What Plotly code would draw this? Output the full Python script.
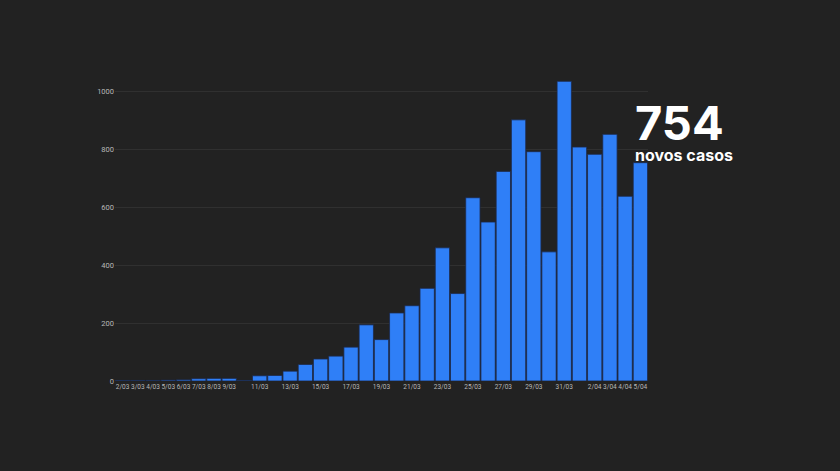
import plotly.graph_objects as go

dates = ["2/03","3/03","4/03","5/03","6/03","7/03","8/03","9/03","10/03","11/03",
         "12/03","13/03","14/03","15/03","16/03","17/03","18/03","19/03","20/03","21/03",
         "22/03","23/03","24/03","25/03","26/03","27/03","28/03","29/03","30/03","31/03",
         "1/04","2/04","3/04","4/04","5/04"]
new_cases = [2, 2, 2, 3, 4, 8, 9, 9, 2, 18,
             19, 34, 57, 76, 86, 117, 194, 143, 235, 260,
             320, 460, 302, 633, 549, 724, 902, 792, 446, 1035,
             808, 783, 852, 638, 754]
shown_ticks = ["2/03","3/03","4/03","5/03","6/03","7/03","8/03","9/03","11/03",
               "13/03","15/03","17/03","19/03","21/03","23/03","25/03","27/03",
               "29/03","31/03","2/04","3/04","4/04","5/04"]
y_ticks = [0, 200, 400, 600, 800, 1000]
headline_value = "754"
headline_label = "novos casos"

bg = "#222222"
fig = go.Figure(go.Bar(
    x=dates, y=new_cases,
    marker=dict(color="#2f7ff7", line=dict(color="#1d2a4a", width=0.8)),
))
fig.update_layout(
    width=840, height=471,
    paper_bgcolor=bg, plot_bgcolor=bg,
    margin=dict(l=115, r=192, t=77, b=90),
    bargap=0.06,
    showlegend=False,
    font=dict(family="Open Sans", color="#b8b8b8", size=8),
)
fig.update_xaxes(
    type="category", range=[-0.5, len(dates) - 0.5],
    tickmode="array", tickvals=shown_ticks, ticktext=shown_ticks,
    tickangle=0,
    showgrid=False, zeroline=False, showline=False, ticks="",
    tickfont=dict(family="Liberation Sans Narrow, Roboto", size=6.5, color="#b8b8b8"),
)
fig.update_yaxes(
    range=[0, 1050], tickvals=y_ticks,
    showgrid=True, gridcolor="#303030", gridwidth=1,
    zeroline=False, showline=False, ticks="",
    tickfont=dict(family="Roboto", size=7.5, color="#b8b8b8"),
)
fig.add_annotation(
    text=f"<span style='font-size:47px'>{headline_value}</span><br>{headline_label}",
    xref="paper", yref="paper",
    x=(633 - 115) / 533, y=(381 - 92) / 304, xanchor="left", yanchor="top",
    align="left", showarrow=False,
    font=dict(family="Inter", size=16, color="white", weight="bold"),
)
fig.write_html("out.html")
